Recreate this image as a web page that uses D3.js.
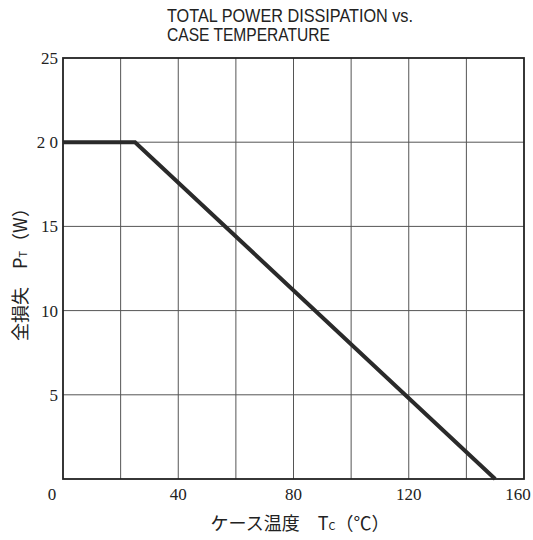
<!DOCTYPE html>
<html><head><meta charset="utf-8">
<script src="https://cdn.jsdelivr.net/npm/d3@7"></script>
<style>body{margin:0;background:#fff}svg{display:block}</style>
</head><body>
<script>
const tempC = [0, 25, 150];
const powerW = [20, 20, 0];
const xTicks = [0, 40, 80, 120, 160];
const yTicks = [5, 10, 15, 20, 25];
const yTickLabels = ["5", "10", "15", "2 0", "25"];
const xGrid = [20, 40, 60, 80, 100, 120, 140];
const yGrid = [5, 10, 15, 20];
const titleLines = ["TOTAL POWER DISSIPATION vs.", "CASE TEMPERATURE"];

const W = 533, H = 540;
const m = {l: 63, r: 524, t: 58, b: 479};
const svg = d3.select("body").append("svg").attr("width", W).attr("height", H);
const x = d3.scaleLinear().domain([0, 160]).range([m.l, m.r]);
const y = d3.scaleLinear().domain([0, 25]).range([m.b, m.t]);

// grid
svg.append("g").selectAll("line").data(xGrid).join("line")
  .attr("x1", d => x(d)).attr("x2", d => x(d)).attr("y1", m.t).attr("y2", m.b)
  .attr("stroke", "#555").attr("stroke-width", 1);
svg.append("g").selectAll("line").data(yGrid).join("line")
  .attr("y1", d => y(d)).attr("y2", d => y(d)).attr("x1", m.l).attr("x2", m.r)
  .attr("stroke", "#555").attr("stroke-width", 1);

// frame
svg.append("rect").attr("x", m.l).attr("y", m.t).attr("width", m.r - m.l).attr("height", m.b - m.t)
  .attr("fill", "none").attr("stroke", "#222").attr("stroke-width", 1.8);

// data line
svg.append("path").datum(tempC.map((t, i) => [t, powerW[i]]))
  .attr("d", d3.line().x(d => x(d[0])).y(d => y(d[1])))
  .attr("fill", "none").attr("stroke", "#2a2a2a").attr("stroke-width", 4);

// y tick labels
svg.append("g").selectAll("text").data(yTicks).join("text")
  .attr("x", m.l - 5).attr("y", d => y(d) + 6)
  .attr("text-anchor", "end").attr("font-family", "Liberation Serif").attr("font-size", 17)
  .attr("fill", "#222").text((d, i) => yTickLabels[i]);

// x tick labels
svg.append("g").selectAll("text").data(xTicks).join("text")
  .attr("x", d => d === 0 ? x(d) - 11 : (d === 160 ? x(d) - 6 : x(d)))
  .attr("y", 500)
  .attr("text-anchor", "middle").attr("font-family", "Liberation Serif").attr("font-size", 17)
  .attr("fill", "#222").text(d => d);

// title
svg.append("g").selectAll("text").data(titleLines).join("text")
  .attr("x", 167).attr("y", (d, i) => 22 + i * 19)
  .attr("font-family", "Liberation Sans Narrow, Liberation Sans").attr("font-size", 18).attr("fill", "#222")
  .attr("textLength", (d, i) => i === 0 ? 246 : 163)
  .attr("lengthAdjust", "spacingAndGlyphs")
  .text(d => d);

// x label
const xl = svg.append("text").attr("x", 300).attr("y", 530).attr("text-anchor", "middle")
  .attr("font-family", "Noto Sans CJK JP, serif").attr("font-size", 18).attr("fill", "#222");
xl.append("tspan").text("ケース温度　T");
xl.append("tspan").attr("font-size", 11).text("C");
xl.append("tspan").text("（℃）");

// y label
const yl = svg.append("text").attr("transform", "translate(27,270) rotate(-90)").attr("text-anchor", "middle")
  .attr("font-family", "Noto Sans CJK JP, serif").attr("font-size", 18).attr("fill", "#222");
yl.append("tspan").text("全損失　P");
yl.append("tspan").attr("font-size", 11).text("T");
yl.append("tspan").text("（W）");
</script>
</body></html>
